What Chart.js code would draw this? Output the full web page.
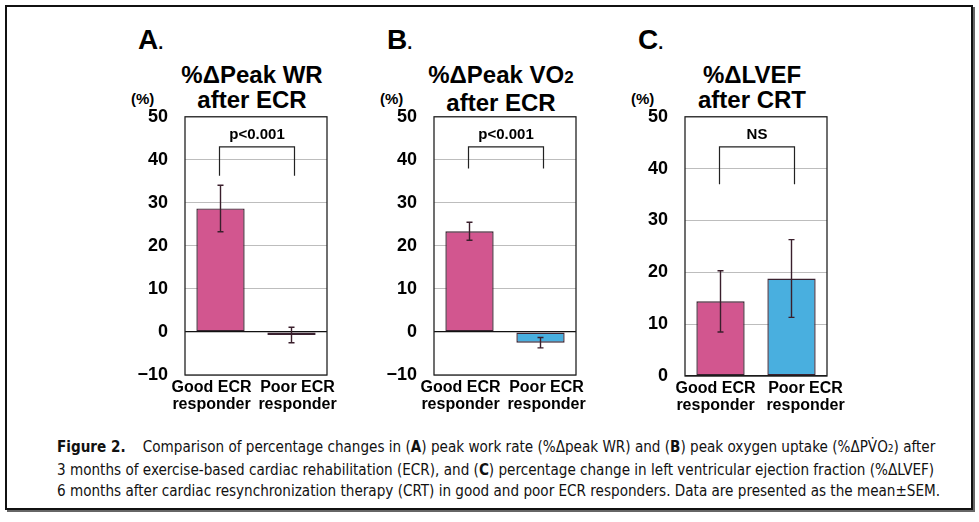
<!DOCTYPE html>
<html><head><meta charset="utf-8">
<script src="https://cdn.jsdelivr.net/npm/chart.js@4.4.1/dist/chart.umd.min.js"></script>
<style>
html,body{margin:0;padding:0;background:#fff;width:979px;height:522px;overflow:hidden;font-family:"Liberation Sans",Arial,sans-serif;}
#frame{position:absolute;left:5px;top:5px;width:964px;height:501px;border:2px solid #111;box-shadow:2px 2px 0 #666;}
.pl{position:absolute;font-weight:bold;font-size:28px;color:#000;}
.pl span{font-size:18px;}
.tt{position:absolute;font-weight:bold;font-size:24px;line-height:25px;text-align:center;width:220px;color:#000;}
.unit{position:absolute;font-weight:bold;font-size:15px;color:#000;}
canvas{position:absolute;}
#cap{position:absolute;left:57px;top:437px;width:910px;font-family:"Liberation Sans Narrow","DejaVu Sans Condensed",sans-serif;font-size:15.1px;line-height:21.5px;color:#111;white-space:nowrap;}
</style></head><body>
<div id="frame"></div>
<div class="pl" style="left:138px;top:24px;">A<span>.</span></div>
<div class="pl" style="left:387px;top:24px;">B<span>.</span></div>
<div class="pl" style="left:638px;top:24px;">C<span>.</span></div>
<div class="tt" style="left:142px;top:62px;">%ΔPeak WR<br>after ECR</div>
<div class="tt" style="left:391px;top:62px;">%ΔPeak VO<span style="font-size:17px">2</span><br>after ECR</div>
<div class="tt" style="left:642px;top:62px;">%ΔLVEF<br>after CRT</div>
<div class="unit" style="left:131px;top:90px;">(%)</div>
<div class="unit" style="left:380px;top:90px;">(%)</div>
<div class="unit" style="left:631px;top:90px;">(%)</div>
<canvas id="cA" style="left:120px;top:89px;width:235px;height:327px;" width="235" height="327"></canvas>
<canvas id="cB" style="left:369px;top:89px;width:235px;height:327px;" width="235" height="327"></canvas>
<canvas id="cC" style="left:620px;top:89px;width:235px;height:328px;" width="235" height="328"></canvas>
<div id="cap"><b>Figure 2.</b>&nbsp;&nbsp;&nbsp; Comparison of percentage changes in (<b>A</b>) peak work rate (%Δpeak WR) and (<b>B</b>) peak oxygen uptake (%ΔPV̇O<span style="font-size:10px">2</span>) after<br>3 months of exercise-based cardiac rehabilitation (ECR), and (<b>C</b>) percentage change in left ventricular ejection fraction (%ΔLVEF)<br>6 months after cardiac resynchronization therapy (CRT) in good and poor ECR responders. Data are presented as the mean±SEM.</div>
<script>
// ---- data ----
const categories = [["Good ECR","responder"],["Poor ECR","responder"]];
const peakWR = [28.7, -0.7];
const peakWRsem = [5.4, 1.8];
const peakVO2 = [23.4, -2.5];
const peakVO2sem = [2.1, 1.2];
const lvef = [14.4, 18.8];
const lvefSem = [5.9, 7.5];
const yRangeAB = [-10, 50];
const yRangeC = [0, 50];
const bracketTop = [43, 43, 44.2];
const bracketLeg = [36.3, 38, 37];
const bracketText = ["p<0.001", "p<0.001", "NS"];
const barColors = ["#d2568f", "#49afdf"];

const FONT = '"Liberation Sans", Arial, sans-serif';
// horizontal nudges of the category labels (style only)
const labelShift = [[-9, 6], [-9, 6], [-5, 14]];

function makePanel(id, values, sems, yr, idx) {
  const extras = {
    id: 'extras' + idx,
    afterDatasetsDraw(chart) {
      const ctx = chart.ctx, x = chart.scales.x, y = chart.scales.y, ca = chart.chartArea;
      ctx.save();
      // error bars
      ctx.strokeStyle = '#3a1f2c'; ctx.lineWidth = 1.4;
      values.forEach((v, i) => {
        const px = x.getPixelForValue(i);
        const t = y.getPixelForValue(v + sems[i]), b = y.getPixelForValue(v - sems[i]);
        ctx.beginPath();
        ctx.moveTo(px, t); ctx.lineTo(px, b);
        ctx.moveTo(px - 3, t); ctx.lineTo(px + 3, t);
        ctx.moveTo(px - 3, b); ctx.lineTo(px + 3, b);
        ctx.stroke();
      });
      // bracket
      const x0 = x.getPixelForValue(0) - 1, x1 = x.getPixelForValue(1) + 3;
      const yt = y.getPixelForValue(bracketTop[idx]), yl = y.getPixelForValue(bracketLeg[idx]);
      ctx.strokeStyle = '#222'; ctx.lineWidth = 1.2;
      ctx.beginPath();
      ctx.moveTo(x0, yl); ctx.lineTo(x0, yt); ctx.lineTo(x1, yt); ctx.lineTo(x1, yl);
      ctx.stroke();
      ctx.fillStyle = '#000';
      ctx.font = 'bold 15px ' + FONT;
      ctx.textAlign = 'center'; ctx.textBaseline = 'bottom';
      ctx.fillText(bracketText[idx], (x0 + x1) / 2, yt - 5);
      // frame
      ctx.strokeStyle = '#222'; ctx.lineWidth = 1.3;
      ctx.strokeRect(ca.left, ca.top, ca.right - ca.left, ca.bottom - ca.top);
      // category labels
      ctx.font = 'bold 16px ' + FONT;
      ctx.textBaseline = 'middle';
      categories.forEach((lines, i) => {
        const px = x.getPixelForValue(i) + labelShift[idx][i];
        lines.forEach((s, k) => ctx.fillText(s, px, ca.bottom + 13 + k * 17));
      });
      ctx.restore();
    }
  };
  return new Chart(document.getElementById(id), {
    type: 'bar',
    data: {
      labels: categories,
      datasets: [{
        data: values,
        backgroundColor: barColors,
        borderColor: '#3a2230',
        borderWidth: 1.4,
        borderSkipped: false,
        barPercentage: 0.68,
        categoryPercentage: 1.0
      }]
    },
    options: {
      responsive: false,
      animation: false,
      devicePixelRatio: 1,
      layout: { padding: { top: 0, right: 28, left: 0, bottom: 0 } },
      plugins: { legend: { display: false }, tooltip: { enabled: false } },
      scales: {
        x: {
          afterFit(s) { s.height = 41; },
          grid: { display: false, drawTicks: false },
          border: { display: false },
          ticks: { display: false }
        },
        y: {
          min: yr[0], max: yr[1],
          afterFit(s) { s.width = 65; },
          grid: {
            drawTicks: false,
            color: (c) => c.tick && c.tick.value === 0 ? '#111' : '#bdbdbd',
            lineWidth: (c) => c.tick && c.tick.value === 0 ? 1.3 : 1
          },
          border: { display: false },
          ticks: { stepSize: 10, color: '#000', padding: 17,
            callback: (v) => String(v).replace('-', '\u2212'),
            font: { family: FONT, size: 18, weight: 'bold' } }
        }
      }
    },
    plugins: [extras]
  });
}
makePanel('cA', peakWR, peakWRsem, yRangeAB, 0);
makePanel('cB', peakVO2, peakVO2sem, yRangeAB, 1);
makePanel('cC', lvef, lvefSem, yRangeC, 2);
</script>
</body></html>
